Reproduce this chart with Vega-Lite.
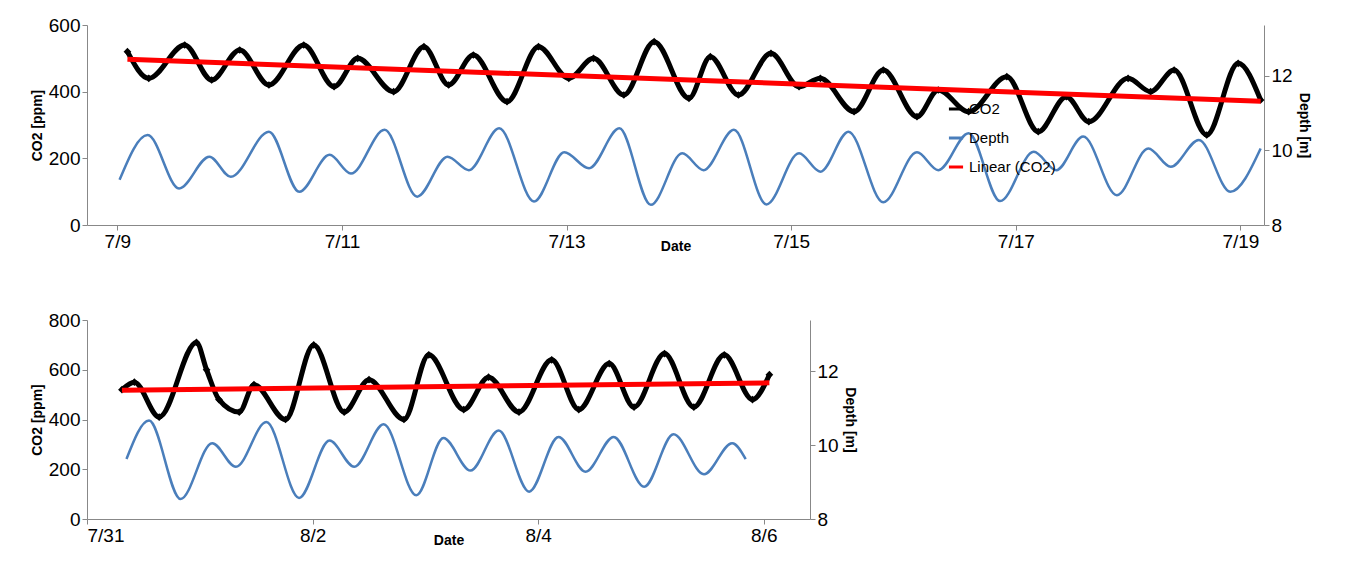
{
  "$schema": "https://vega.github.io/schema/vega-lite/v6.json",
  "padding": {"left": 30, "top": 16, "right": 10, "bottom": 5},
  "spacing": 58,
  "config": {
    "font": "Liberation Sans",
    "view": {"stroke": null},
    "axis": {"grid": false, "labelFontSize": 19, "labelColor": "#000", "titleFontSize": 14, "titleFontWeight": "bold", "titleColor": "#000", "domainColor": "#888", "tickColor": "#888", "tickSize": 5},
    "legend": {"labelFontSize": 15, "labelColor": "#000"}
  },
  "datasets": {
    "c1": [
      {"x": 9.09, "c": 520}, {"x": 9.28, "c": 440}, {"x": 9.6, "c": 540}, {"x": 9.84, "c": 435},
      {"x": 10.09, "c": 525}, {"x": 10.35, "c": 420}, {"x": 10.66, "c": 540}, {"x": 10.93, "c": 415},
      {"x": 11.14, "c": 500}, {"x": 11.46, "c": 400}, {"x": 11.73, "c": 535}, {"x": 11.95, "c": 420},
      {"x": 12.17, "c": 510}, {"x": 12.47, "c": 370}, {"x": 12.75, "c": 535}, {"x": 13.02, "c": 440},
      {"x": 13.24, "c": 500}, {"x": 13.51, "c": 390}, {"x": 13.78, "c": 550}, {"x": 14.09, "c": 380},
      {"x": 14.28, "c": 505}, {"x": 14.53, "c": 390}, {"x": 14.82, "c": 515}, {"x": 15.07, "c": 415},
      {"x": 15.26, "c": 440}, {"x": 15.56, "c": 340}, {"x": 15.82, "c": 465}, {"x": 16.12, "c": 325},
      {"x": 16.31, "c": 405}, {"x": 16.58, "c": 340}, {"x": 16.92, "c": 445}, {"x": 17.2, "c": 280},
      {"x": 17.45, "c": 385}, {"x": 17.65, "c": 310}, {"x": 18.0, "c": 440}, {"x": 18.2, "c": 400},
      {"x": 18.41, "c": 465}, {"x": 18.7, "c": 270}, {"x": 18.98, "c": 485}, {"x": 19.18, "c": 375}
    ],
    "d1": [
      {"x": 9.02, "d": 9.21}, {"x": 9.27, "d": 10.41}, {"x": 9.55, "d": 8.98}, {"x": 9.82, "d": 9.83},
      {"x": 10.01, "d": 9.29}, {"x": 10.35, "d": 10.5}, {"x": 10.62, "d": 8.89}, {"x": 10.89, "d": 9.88},
      {"x": 11.08, "d": 9.38}, {"x": 11.38, "d": 10.55}, {"x": 11.67, "d": 8.76}, {"x": 11.94, "d": 9.83},
      {"x": 12.13, "d": 9.47}, {"x": 12.4, "d": 10.59}, {"x": 12.71, "d": 8.63}, {"x": 12.98, "d": 9.95},
      {"x": 13.2, "d": 9.52}, {"x": 13.47, "d": 10.59}, {"x": 13.75, "d": 8.54}, {"x": 14.03, "d": 9.92},
      {"x": 14.22, "d": 9.47}, {"x": 14.49, "d": 10.55}, {"x": 14.78, "d": 8.55}, {"x": 15.07, "d": 9.92},
      {"x": 15.26, "d": 9.43}, {"x": 15.51, "d": 10.5}, {"x": 15.82, "d": 8.61}, {"x": 16.12, "d": 9.95},
      {"x": 16.31, "d": 9.47}, {"x": 16.58, "d": 10.46}, {"x": 16.86, "d": 8.64}, {"x": 17.16, "d": 9.96},
      {"x": 17.36, "d": 9.47}, {"x": 17.6, "d": 10.37}, {"x": 17.9, "d": 8.8}, {"x": 18.18, "d": 10.05},
      {"x": 18.38, "d": 9.56}, {"x": 18.63, "d": 10.28}, {"x": 18.91, "d": 8.89}, {"x": 19.18, "d": 10.05}
    ],
    "c2": [
      {"x": 31.31, "c": 520}, {"x": 31.42, "c": 550}, {"x": 31.64, "c": 410}, {"x": 31.97, "c": 710},
      {"x": 32.06, "c": 600}, {"x": 32.17, "c": 480}, {"x": 32.35, "c": 430}, {"x": 32.48, "c": 540},
      {"x": 32.76, "c": 400}, {"x": 33.01, "c": 700}, {"x": 33.28, "c": 430}, {"x": 33.5, "c": 560},
      {"x": 33.81, "c": 400}, {"x": 34.03, "c": 660}, {"x": 34.34, "c": 440}, {"x": 34.56, "c": 570},
      {"x": 34.83, "c": 430}, {"x": 35.12, "c": 640}, {"x": 35.36, "c": 440}, {"x": 35.63, "c": 625},
      {"x": 35.85, "c": 450}, {"x": 36.12, "c": 665}, {"x": 36.38, "c": 450}, {"x": 36.65, "c": 660},
      {"x": 36.9, "c": 480}, {"x": 37.05, "c": 580}
    ],
    "d2": [
      {"x": 31.35, "d": 9.62}, {"x": 31.55, "d": 10.66}, {"x": 31.83, "d": 8.54}, {"x": 32.11, "d": 10.05},
      {"x": 32.32, "d": 9.41}, {"x": 32.59, "d": 10.62}, {"x": 32.88, "d": 8.57}, {"x": 33.15, "d": 10.12},
      {"x": 33.37, "d": 9.41}, {"x": 33.63, "d": 10.56}, {"x": 33.92, "d": 8.64}, {"x": 34.16, "d": 10.19},
      {"x": 34.4, "d": 9.31}, {"x": 34.65, "d": 10.39}, {"x": 34.92, "d": 8.74}, {"x": 35.18, "d": 10.22},
      {"x": 35.42, "d": 9.28}, {"x": 35.67, "d": 10.22}, {"x": 35.94, "d": 8.87}, {"x": 36.2, "d": 10.29},
      {"x": 36.47, "d": 9.21}, {"x": 36.72, "d": 10.05}, {"x": 36.84, "d": 9.62}
    ]
  },
  "vconcat": [
    {
      "width": 1177, "height": 200,
      "encoding": {
        "x": {"field": "x", "type": "quantitative", "title": "Date", "scale": {"domain": [8.73, 19.21], "nice": false, "zero": false},
          "axis": {"values": [9, 11, 13, 15, 17, 19], "labelExpr": "'7/' + datum.value", "titlePadding": -12}}
      },
      "layer": [
        {
          "encoding": {"y": {"field": "c", "type": "quantitative", "title": "CO2 [ppm]", "scale": {"domain": [0, 600], "nice": false}, "axis": {"values": [0, 200, 400, 600]}}},
          "layer": [
            {"data": {"name": "c1"}, "transform": [{"calculate": "'CO2'", "as": "s"}], "mark": {"type": "line", "interpolate": "monotone", "strokeWidth": 5},
              "encoding": {"color": {"field": "s", "type": "nominal"}}},
            {"data": {"name": "c1"}, "transform": [{"calculate": "'CO2'", "as": "s"}], "mark": {"type": "point", "filled": true, "shape": "diamond", "size": 60, "opacity": 1},
              "encoding": {"color": {"field": "s", "type": "nominal"}}},
            {"data": {"name": "c1"}, "transform": [{"regression": "c", "on": "x"}, {"calculate": "'Linear (CO2)'", "as": "s"}], "mark": {"type": "line", "strokeWidth": 5},
              "encoding": {"color": {"field": "s", "type": "nominal"}}}
          ]
        },
        {
          "data": {"name": "d1"}, "transform": [{"calculate": "'Depth'", "as": "s"}],
          "mark": {"type": "line", "interpolate": "monotone", "strokeWidth": 2.5},
          "encoding": {
            "y": {"field": "d", "type": "quantitative", "title": "Depth [m]", "scale": {"domain": [8, 13.36], "nice": false, "zero": false}, "axis": {"orient": "right", "values": [8, 10, 12]}},
            "color": {"field": "s", "type": "nominal"}
          }
        }
      ],
      "resolve": {"scale": {"y": "independent"}}
    },
    {
      "width": 723, "height": 199,
      "encoding": {
        "x": {"field": "x", "type": "quantitative", "title": "Date", "scale": {"domain": [31, 37.41], "nice": false, "zero": false},
          "axis": {"values": [31, 33, 35, 37], "labelExpr": "datum.value <= 31 ? '7/' + datum.value : '8/' + (datum.value - 31)", "titlePadding": -12}}
      },
      "layer": [
        {
          "encoding": {"y": {"field": "c", "type": "quantitative", "title": "CO2 [ppm]", "scale": {"domain": [0, 800], "nice": false}, "axis": {"values": [0, 200, 400, 600, 800]}}},
          "layer": [
            {"data": {"name": "c2"}, "transform": [{"calculate": "'CO2'", "as": "s"}], "mark": {"type": "line", "interpolate": "monotone", "strokeWidth": 5},
              "encoding": {"color": {"field": "s", "type": "nominal"}}},
            {"data": {"name": "c2"}, "transform": [{"calculate": "'CO2'", "as": "s"}], "mark": {"type": "point", "filled": true, "shape": "diamond", "size": 60, "opacity": 1},
              "encoding": {
                "color": {"field": "s", "type": "nominal", "title": null,
                  "scale": {"domain": ["CO2", "Depth", "Linear (CO2)"], "range": ["#000000", "#4a7ebb", "#ff0000"]},
                  "legend": {"orient": "none", "legendX": 860, "legendY": 75, "rowPadding": 12, "symbolSize": 200, "symbolStrokeWidth": 3, "symbolType": "stroke"}}
              }},
            {"data": {"name": "c2"}, "transform": [{"regression": "c", "on": "x"}, {"calculate": "'Linear (CO2)'", "as": "s"}], "mark": {"type": "line", "strokeWidth": 5},
              "encoding": {"color": {"field": "s", "type": "nominal"}}}
          ]
        },
        {
          "data": {"name": "d2"}, "transform": [{"calculate": "'Depth'", "as": "s"}],
          "mark": {"type": "line", "interpolate": "monotone", "strokeWidth": 2.5},
          "encoding": {
            "y": {"field": "d", "type": "quantitative", "title": "Depth [m]", "scale": {"domain": [8, 13.38], "nice": false, "zero": false}, "axis": {"orient": "right", "values": [8, 10, 12]}},
            "color": {"field": "s", "type": "nominal"}
          }
        }
      ],
      "resolve": {"scale": {"y": "independent"}}
    }
  ]
}
